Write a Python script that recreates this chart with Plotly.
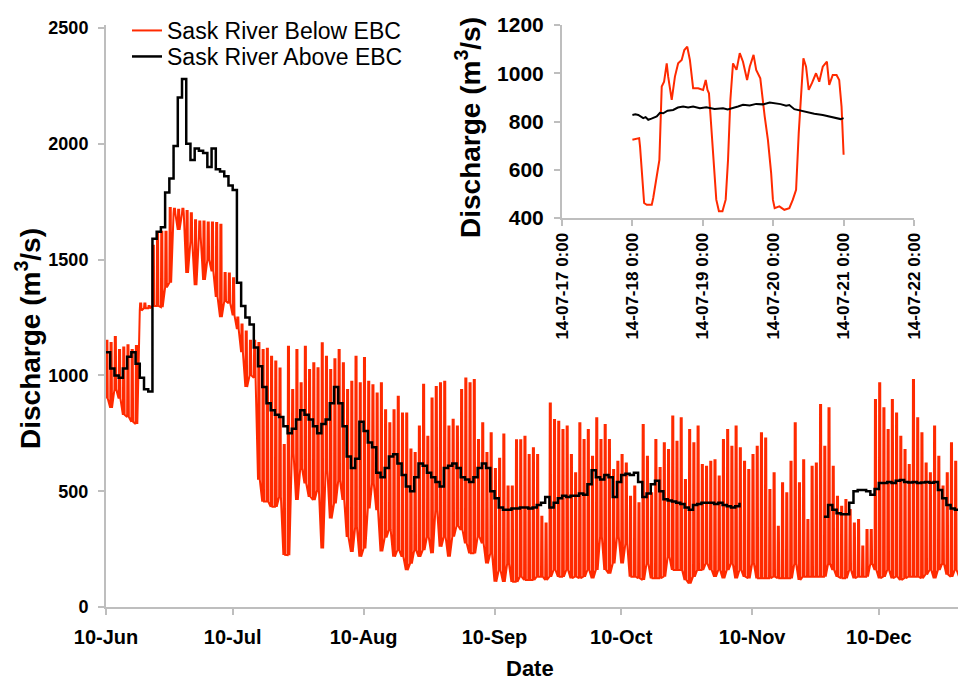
import datetime as dt
import plotly.graph_objects as go

# ---------------- main panel data (daily, starting 10 June 2014) ----------------
start_date = dt.datetime(2014, 6, 10)

# Sask River Above EBC: daily discharge (m3/s); None = missing record
above_ebc = [
    1100, 1030, 1000, 990, 1030, 1080, 1100, 1050, 990, 940,
    930, 1590, 1620, 1640, 1790, 1850, 1990, 2200, 2280, 2000,
    1930, 1980, 1970, 1960, 1900, 1980, 1890, 1880, 1860, 1820,
    1800, 1400, 1300, 1250, 1220, 1120, 1040, 950, 880, 850,
    830, 820, 780, 750, 770, 810, 850, 830, 810, 780,
    750, 790, 810, 880, 950, 880, 780, 650, 600, 640,
    800, 760, 710, 690, 580, 560, 600, 650, 660, 620,
    570, 520, 500, 560, 620, 610, 580, 560, 540, 520,
    600, 610, 620, 600, 560, 550, 540, 560, 600, 620,
    600, 500, 470, 430, 420, 420, 425, 425, 430, 430,
    425, 430, 440, 450, 475, 430, 450, 470, 480, 475,
    480, 480, 490, 485, 530, 590, 560, 550, 570, 560,
    475, 540, 570, 575, 570, 580, 540, 475, 490, 530,
    545, 500, 465, 460, 455, 450, 445, 430, 420, 440,
    445, 450, 450, 450, 445, 450, 440, 435, 430, 435,
    450, None, None, None, None, None, None, None, None, None,
    None, None, None, None, None, None, None, None, None, None,
    390, 440, 420, 405, 400, 400, 450, 500, 505, 505,
    500, 485, 510, 535, 535, 540, 535, 545, 548, 540,
    538, 540, 535, 538, 540, 537, 540, 505, 470, 440,
    425, 420, 420,
]

# Sask River Below EBC: daily peak and trough discharge (m3/s)
below_ebc_high = [
    1150, 1140, 1166, 1110, 1120, 1130, 1110, 1127, 1310, 1310,
    1300, 1560, 1610, 1620, 1620, 1723, 1720, 1715, 1720, 1710,
    1700, 1670, 1665, 1665, 1660, 1660, 1658, 1650, 1442, 1440,
    1420, 1250, 1220, 1190, 1150, 1150, 1140, 1110, 1115, 1080,
    1060, 1030, 700, 1124, 937, 1110, 966, 1124, 1023, 1052,
    1031, 1139, 1081, 1023, 1070, 1110, 1052, 937, 973, 1081,
    966, 1075, 973, 958, 922, 966, 850, 793, 850, 908,
    836, 836, 680, 665, 779, 960, 735, 900, 950, 966,
    973, 779, 808, 779, 937, 987, 966, 980, 721, 793,
    665, 750, 596, 640, 745, 520, 520, 720, 720, 735,
    656, 685, 656, 390, 361, 879, 807, 800, 764, 779,
    656, 577, 793, 721, 764, 649, 815, 721, 786, 721,
    591, 627, 656, 620, 476, 520, 448, 786, 649, 491,
    721, 600, 707, 678, 822, 714, 815, 548, 764, 707,
    779, 613, 606, 627, 634, 563, 721, 764, 692, 779,
    685, 627, 591, 656, 692, 750, 728, 505, 577, 347,
    534, 491, 627, 793, 534, 634, 376, 606, 620, 872,
    692, 858, 606, 476, 433, 462, 419, 361, 376, 261,
    333, 333, 894, 966, 858, 764, 894, 836, 735, 678,
    613, 980, 815, 750, 620, 577, 779, 649, 520, 577,
    707, 627, 750,
]
below_ebc_low = [
    900, 860, 940, 900, 830, 820, 800, 790, 1280, 1290,
    1290, 1300, 1300, 1295, 1380, 1400, 1700, 1628, 1700, 1442,
    1580, 1390, 1600, 1412, 1500, 1450, 1339, 1252, 1320, 1312,
    1260, 1200, 1100, 950, 1000, 990, 550, 455, 455, 433,
    433, 476, 225, 224, 663, 462, 600, 534, 476, 462,
    505, 253, 591, 382, 447, 548, 462, 303, 238, 346,
    217, 253, 426, 534, 418, 240, 300, 333, 217, 246,
    217, 159, 188, 246, 217, 246, 304, 232, 420, 260,
    304, 217, 304, 350, 333, 275, 232, 232, 304, 275,
    188, 232, 109, 159, 109, 188, 109, 109, 131, 117,
    117, 117, 131, 131, 117, 131, 160, 131, 131, 160,
    124, 131, 124, 131, 160, 124, 160, 304, 160, 145,
    188, 304, 188, 275, 131, 131, 124, 117, 188, 124,
    124, 124, 131, 217, 160, 160, 160, 117, 102, 131,
    160, 160, 188, 160, 131, 160, 124, 160, 188, 124,
    160, 131, 124, 188, 124, 124, 124, 124, 131, 124,
    124, 124, 124, 188, 117, 131, 131, 131, 131, 131,
    131, 188, 160, 131, 124, 124, 160, 124, 131, 131,
    131, 188, 160, 124, 131, 160, 124, 131, 117, 124,
    131, 131, 131, 124, 140, 160, 124, 160, 188, 140,
    131, 160, 131,
]

month_ticks = ["2014-06-10", "2014-07-10", "2014-08-10", "2014-09-10",
               "2014-10-10", "2014-11-10", "2014-12-10"]
month_labels = ["10-Jun", "10-Jul", "10-Aug", "10-Sep", "10-Oct", "10-Nov", "10-Dec"]

# ---------------- inset data (18-21 July 2014) ----------------
inset_start = dt.datetime(2014, 7, 18)
inset_below_hours = [
    0, 2.3, 2.6, 3.2, 4.0, 4.9, 6.6, 7.1, 8.3, 9.2, 10.0, 10.8, 11.7, 12.2, 13.4,
    14.5, 15.6, 16.8, 17.7, 18.7, 19.6, 20.7, 22.4, 24.1, 25.0, 25.6, 26.1, 26.6,
    27.5, 28.6, 29.5, 30.7, 31.8, 32.6, 33.4, 34.3, 35.5, 36.6, 37.7, 39.1, 40.0,
    41.3, 42.2, 43.6, 45.1, 46.2, 47.3, 47.9, 48.5, 50.1, 51.8, 53.5, 54.7, 55.8,
    56.7, 57.5, 58.3, 59.2, 60.1, 61.2, 62.6, 63.7, 64.9, 66.3, 67.1, 68.3, 69.6,
    70.5, 71.3, 72.0,
]
inset_below_q = [
    724, 731, 697, 586, 462, 455, 455, 483, 572, 641, 945, 965, 1041, 986, 890,
    986, 1041, 1055, 1096, 1110, 1055, 938, 938, 931, 972, 931, 917, 834,
    683, 476, 428, 428, 476, 641, 890, 1041, 1014, 1083, 1048, 972, 1027,
    1076, 1014, 979, 821, 724, 586, 476, 441, 448, 434, 441, 476, 517,
    752, 903, 1062, 1027, 931, 959, 1000, 965, 1027, 1048, 952, 993, 993,
    972, 862, 662,
]
inset_above_hours = [
    0, 1.0, 2.0, 3.0, 3.7, 4.5, 5.4, 6.5, 7.3, 8.3, 9.4, 10.5, 12.0, 13.9, 15.5,
    17.3, 19.0, 20.7, 23.0, 25.2, 28.0, 30.9, 32.5, 34.3, 36.0, 37.7, 40.0, 42.2,
    44.5, 46.8, 49.0, 50.5, 52.4, 53.5, 55.2, 57.0, 59.2, 62.0, 64.9, 67.0, 69.4,
    71.0, 72.0,
]
inset_above_q = [
    827, 830, 827, 820, 814, 818, 807, 812, 815, 821, 836, 834, 845, 848, 858,
    862, 858, 862, 855, 859, 852, 855, 850, 855, 862, 869, 866, 873,
    871, 879, 876, 872, 865, 868, 851, 846, 837, 832, 827, 822, 814,
    810, 814,
]
inset_ticks = ["2014-07-17", "2014-07-18", "2014-07-19", "2014-07-20",
               "2014-07-21", "2014-07-22"]
inset_labels = ["14-07-17 0:00", "14-07-18 0:00", "14-07-19 0:00", "14-07-20 0:00",
                "14-07-21 0:00", "14-07-22 0:00"]

# ---------------- build traces ----------------
above_x = [start_date + dt.timedelta(days=i) for i in range(len(above_ebc))]

# each day: ramp up to the generation peak, hold, then back to the trough
peak_shape_hours = [0.0, 2.0, 8.0, 10.0]
below_x, below_y = [], []
for i, (lo, hi) in enumerate(zip(below_ebc_low, below_ebc_high)):
    day = start_date + dt.timedelta(days=i)
    for h, q in zip(peak_shape_hours, (lo, hi, hi, lo)):
        below_x.append(day + dt.timedelta(hours=h))
        below_y.append(q)

inset_below_x = [inset_start + dt.timedelta(hours=h) for h in inset_below_hours]
inset_above_x = [inset_start + dt.timedelta(hours=h) for h in inset_above_hours]

RED = "#FF2A00"
BLACK = "#000000"
AXIS_GREY = "#BEBEBE"
FONT = "Liberation Sans, Arial, sans-serif"

fig = go.Figure()
fig.add_trace(go.Scatter(
    x=below_x, y=below_y, mode="lines", name="Sask River Below EBC",
    line=dict(color=RED, width=2), legend="legend",
))
fig.add_trace(go.Scatter(
    x=above_x, y=above_ebc, mode="lines", name="Sask River Above EBC",
    line=dict(color=BLACK, width=2.5, shape="hv"), connectgaps=False,
    legend="legend2",
))
fig.add_trace(go.Scatter(
    x=inset_below_x, y=inset_below_q, mode="lines", showlegend=False,
    line=dict(color=RED, width=2), xaxis="x2", yaxis="y2",
))
fig.add_trace(go.Scatter(
    x=inset_above_x, y=inset_above_q, mode="lines", showlegend=False,
    line=dict(color=BLACK, width=2), xaxis="x2", yaxis="y2",
))

W, H = 958, 682
L, R, T, B = 106, 0, 25, 75
plot_w = W - L - R
plot_h = H - T - B


def px_x(px):
    return (px - L) / plot_w


def px_y(py):
    return (H - B - py) / plot_h


legend_style = dict(
    xanchor="left", yanchor="top",
    font=dict(size=23, family=FONT, color="black"),
    bgcolor="rgba(0,0,0,0)", itemwidth=30,
)

fig.update_layout(
    width=W, height=H,
    margin=dict(l=L, r=R, t=T, b=B, autoexpand=False),
    paper_bgcolor="white", plot_bgcolor="white",
    font=dict(family=FONT, color="black"),
    showlegend=True,
    legend=dict(x=px_x(127), y=px_y(9), **legend_style),
    legend2=dict(x=px_x(127), y=px_y(35), **legend_style),
    xaxis=dict(
        type="date", range=["2014-06-10", "2014-12-28 18:00"],
        tickvals=month_ticks, ticktext=month_labels,
        ticks="outside", ticklen=6, tickcolor=AXIS_GREY, tickwidth=1.5,
        showline=True, linecolor=AXIS_GREY, linewidth=2,
        showgrid=False, zeroline=False, automargin=False,
        tickfont=dict(size=20, family=FONT, color="black", weight="bold"),
        ticklabelstandoff=5,
    ),
    yaxis=dict(
        range=[0, 2500 * plot_h / (plot_h - 3)],
        tickvals=[0, 500, 1000, 1500, 2000, 2500],
        ticks="outside", ticklen=6, tickcolor=AXIS_GREY, tickwidth=1.5,
        showline=True, linecolor=AXIS_GREY, linewidth=2,
        showgrid=False, zeroline=False, automargin=False,
        tickfont=dict(size=18, family=FONT, color="black", weight="bold"),
        ticklabelstandoff=6,
    ),
    xaxis2=dict(
        type="date", domain=[px_x(562), px_x(914)],
        anchor="y2", range=["2014-07-17", "2014-07-22"],
        tickvals=inset_ticks, ticktext=inset_labels, tickangle=-90,
        ticks="outside", ticklen=6, tickcolor=AXIS_GREY, tickwidth=1.5,
        showline=True, linecolor=AXIS_GREY, linewidth=2,
        showgrid=False, zeroline=False, automargin=False,
        tickfont=dict(size=17, family=FONT, color="black", weight="bold"),
    ),
    yaxis2=dict(
        domain=[px_y(218), 1.0], anchor="x2", range=[400, 1200],
        tickvals=[400, 600, 800, 1000, 1200],
        ticks="outside", ticklen=6, tickcolor=AXIS_GREY, tickwidth=1.5,
        showline=True, linecolor=AXIS_GREY, linewidth=2,
        showgrid=False, zeroline=False, automargin=False,
        tickfont=dict(size=21, family=FONT, color="black", weight="bold"),
        ticklabelstandoff=6,
    ),
    annotations=[
        dict(text="Discharge (m<sup>3</sup>/s)", textangle=-90,
             xref="paper", yref="paper", x=px_x(28), y=px_y(339),
             xanchor="center", yanchor="middle", showarrow=False,
             font=dict(size=28, family=FONT, color="black", weight="bold")),
        dict(text="Discharge (m<sup>3</sup>/s)", textangle=-90,
             xref="paper", yref="paper", x=px_x(468), y=px_y(128),
             xanchor="center", yanchor="middle", showarrow=False,
             font=dict(size=28, family=FONT, color="black", weight="bold")),
        dict(text="Date", xref="paper", yref="paper",
             x=px_x(530), y=px_y(668),
             xanchor="center", yanchor="middle", showarrow=False,
             font=dict(size=22, family=FONT, color="black", weight="bold")),
    ],
)

fig.write_html("out.html")
